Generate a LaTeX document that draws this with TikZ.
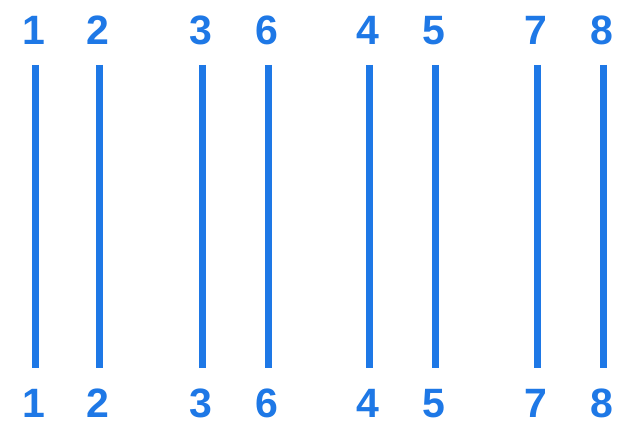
\documentclass[tikz,border=0pt]{standalone}
\usepackage{fontspec}
\setmainfont{Liberation Sans}
\definecolor{wireblue}{HTML}{1E78E6}
\begin{document}
\begin{tikzpicture}[x=1pt,y=-1pt,
  lbl/.style={text=wireblue,font=\fontsize{41}{41}\selectfont\bfseries,inner sep=0pt,anchor=base},
  wire/.style={draw=wireblue,line width=7pt}]
\useasboundingbox[fill=white] (0,0) rectangle (621,425);
\foreach \n/\x in {1/35,2/99,3/202,6/268,4/369,5/435,7/537,8/603}{
  \node[lbl] (t\n) at (\x-1,45) {\n};
  \node[lbl] (b\n) at (\x-1,417) {\n};
  \coordinate (u\n) at (\x,65);
  \coordinate (d\n) at (\x,368);
  \draw[wire] (u\n) -- (d\n);
}
\end{tikzpicture}
\end{document}
